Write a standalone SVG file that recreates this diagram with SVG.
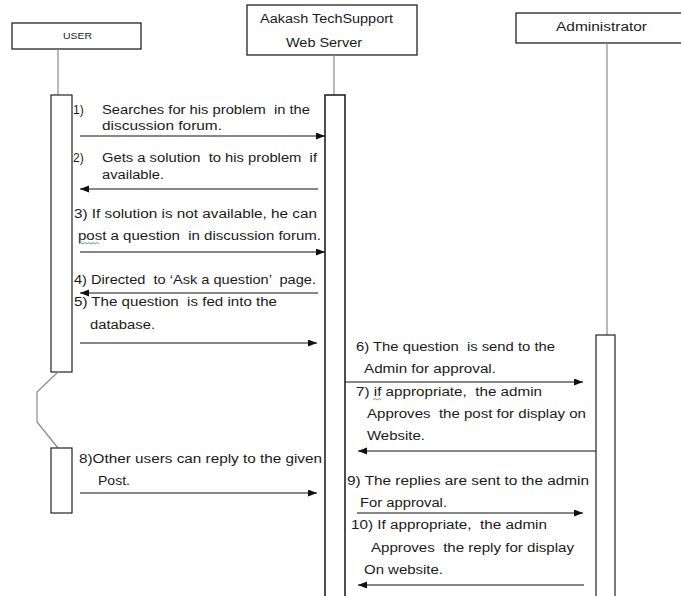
<svg xmlns="http://www.w3.org/2000/svg" width="681" height="596" viewBox="0 0 681 596">
<style>
.hd{fill:#fff;stroke:#222;stroke-width:1.3}
.act{fill:#fff;stroke:#222;stroke-width:1.2}
.life{stroke:#8a8a8a;stroke-width:1.2;fill:none}
.msg{stroke:#111;stroke-width:1.1;fill:none;marker-end:url(#ah)}
text{font-family:"Liberation Sans",Arial,sans-serif;font-size:12px;fill:#1a1a1a;white-space:pre}
.sm{font-size:8.5px}
.sq{stroke:#3a9a3a;stroke-width:0.8;fill:none}
</style>
<defs>
<marker id="ah" markerUnits="userSpaceOnUse" markerWidth="10" markerHeight="8" refX="9" refY="3.5" orient="auto">
<path d="M0,0 L9,3.5 L0,7 z" fill="#111"/>
</marker>
</defs>

<g id="user">
<rect class="hd" x="12" y="23" width="129" height="26"/>
<text class="sm" x="63" y="39" textLength="29" lengthAdjust="spacingAndGlyphs">USER</text>
<line class="life" x1="58" y1="49" x2="58" y2="95"/>
<rect class="act" x="51" y="95" width="21" height="277"/>
<polyline class="life" points="58,372 37,392 37,422 58,448"/>
<rect class="act" x="51" y="448" width="21" height="65"/>
</g>

<g id="webserver">
<rect class="hd" x="247" y="5" width="170" height="50"/>
<text x="260" y="23" textLength="133" lengthAdjust="spacingAndGlyphs">Aakash TechSupport</text>
<text x="286" y="47" textLength="76" lengthAdjust="spacingAndGlyphs">Web Server</text>
<line class="life" x1="334" y1="55" x2="334" y2="95"/>
<rect class="act" x="325" y="95" width="20" height="510" style="stroke-width:1.6"/>
</g>

<g id="administrator">
<rect class="hd" x="516" y="13" width="168" height="30"/>
<text x="556" y="31" textLength="91" lengthAdjust="spacingAndGlyphs">Administrator</text>
<line class="life" x1="607" y1="43" x2="607" y2="335"/>
<rect class="act" x="596" y="335" width="19" height="270"/>
</g>

<g id="connectors">
<line class="msg" x1="80" y1="136" x2="325" y2="136"/>
<line class="msg" x1="318" y1="189" x2="80" y2="189"/>
<line class="msg" x1="80" y1="252" x2="325" y2="252"/>
<line class="msg" x1="318" y1="293" x2="80" y2="293"/>
<line class="msg" x1="80" y1="343" x2="317" y2="343"/>
<line class="msg" x1="345" y1="382" x2="583" y2="382"/>
<line class="msg" x1="596" y1="451" x2="358" y2="451"/>
<line class="msg" x1="80" y1="493" x2="317" y2="493"/>
<line class="msg" x1="357" y1="513" x2="583" y2="513"/>
<line class="msg" x1="584" y1="585" x2="358" y2="585"/>
</g>

<g id="labels">
<text x="73" y="114">1)</text>
<text x="102" y="114" textLength="208" lengthAdjust="spacingAndGlyphs">Searches for his problem  in the</text>
<text x="102" y="130" textLength="120" lengthAdjust="spacingAndGlyphs">discussion forum.</text>
<text x="73" y="162">2)</text>
<text x="102" y="162" textLength="215" lengthAdjust="spacingAndGlyphs">Gets a solution  to his problem  if</text>
<text x="102" y="179" textLength="62" lengthAdjust="spacingAndGlyphs">available.</text>
<text x="74" y="218" textLength="243" lengthAdjust="spacingAndGlyphs">3) If solution is not available, he can</text>
<text x="78" y="240" textLength="243" lengthAdjust="spacingAndGlyphs">post a question  in discussion forum.</text>
<path class="sq" d="M79,244 l2,-1.5 l2,1.5 l2,-1.5 l2,1.5 l2,-1.5 l2,1.5 l2,-1.5 l2,1.5 l2,-1.5 l2,1.5"/>
<text x="74" y="284" textLength="242" lengthAdjust="spacingAndGlyphs">4) Directed  to ‘Ask a question’  page.</text>
<text x="74" y="306" textLength="203" lengthAdjust="spacingAndGlyphs">5) The question  is fed into the</text>
<text x="90" y="329" textLength="65" lengthAdjust="spacingAndGlyphs">database.</text>
<text x="356" y="351" textLength="199" lengthAdjust="spacingAndGlyphs">6) The question  is send to the</text>
<text x="364" y="373" textLength="132" lengthAdjust="spacingAndGlyphs">Admin for approval.</text>
<text x="356" y="396" textLength="186" lengthAdjust="spacingAndGlyphs">7) if appropriate,  the admin</text>
<path class="sq" d="M373,400 l2,-1.5 l2,1.5 l2,-1.5 l2,1.5"/>
<text x="367" y="418" textLength="219" lengthAdjust="spacingAndGlyphs">Approves  the post for display on</text>
<text x="367" y="440" textLength="58" lengthAdjust="spacingAndGlyphs">Website.</text>
<text x="79" y="463" textLength="243" lengthAdjust="spacingAndGlyphs">8)Other users can reply to the given</text>
<text x="98" y="485" textLength="32" lengthAdjust="spacingAndGlyphs">Post.</text>
<text x="347" y="485" textLength="242" lengthAdjust="spacingAndGlyphs">9) The replies are sent to the admin</text>
<text x="360" y="507" textLength="87" lengthAdjust="spacingAndGlyphs">For approval.</text>
<text x="351" y="529" textLength="196" lengthAdjust="spacingAndGlyphs">10) If appropriate,  the admin</text>
<text x="371" y="552" textLength="203" lengthAdjust="spacingAndGlyphs">Approves  the reply for display</text>
<text x="364" y="574" textLength="79" lengthAdjust="spacingAndGlyphs">On website.</text>
</g>
</svg>
